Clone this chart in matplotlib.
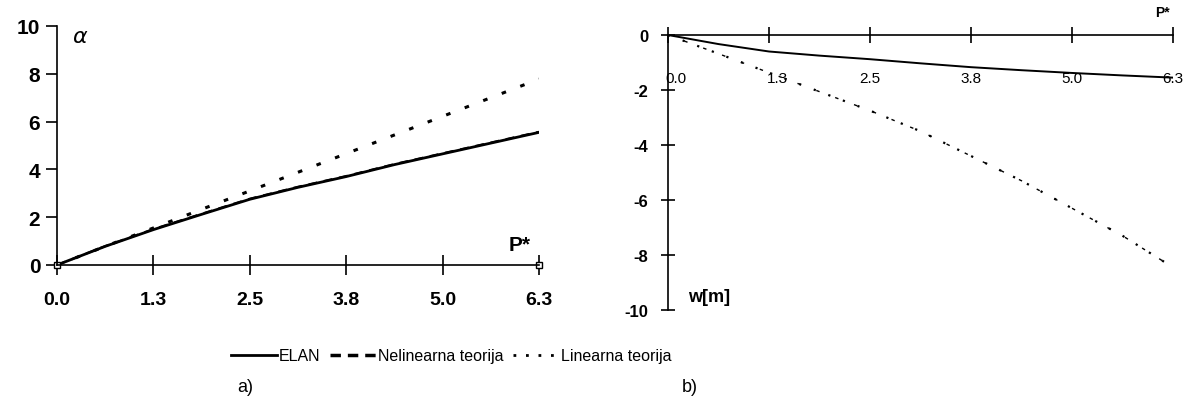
import numpy as np
import matplotlib.pyplot as plt
from matplotlib.lines import Line2D
import matplotlib.transforms as mtransforms

plt.rcParams['font.family'] = ['Liberation Sans', 'DejaVu Sans']

## data
p = [0.0, 0.63, 1.26, 1.89, 2.52, 3.15, 3.78, 4.41, 5.04, 5.67, 6.3]
tick_pos = [0.0, 1.26, 2.52, 3.78, 5.04, 6.3]
tick_lab = ['0.0', '1.3', '2.5', '3.8', '5.0', '6.3']

# a) rotation alpha
alpha_elan = [0.0, 0.78, 1.48, 2.12, 2.75, 3.25, 3.70, 4.20, 4.65, 5.10, 5.55]
alpha_nelin = [0.0, 0.79, 1.50, 2.14, 2.77, 3.27, 3.72, 4.22, 4.67, 5.12, 5.57]
alpha_lin = [0.0, 0.78, 1.55, 2.33, 3.10, 3.88, 4.66, 5.44, 6.22, 7.00, 7.78]

# b) deflection w[m]
w_elan = [0.0, -0.33, -0.60, -0.75, -0.88, -1.03, -1.17, -1.28, -1.38, -1.47, -1.55]
w_nelin = [0.0, -0.68, -1.37, -2.06, -2.75, -3.50, -4.40, -5.30, -6.30, -7.30, -8.45]
w_lin = [0.0, -0.68, -1.37, -2.06, -2.75, -3.50, -4.40, -5.30, -6.30, -7.30, -8.45]

W, H = 1185, 406
fig = plt.figure(figsize=(W / 100, H / 100), dpi=100)

## left plot
ax1 = fig.add_axes([57 / W, 1 - 266 / H, (539 - 57) / W, (266 - 27) / H])
ax1.plot(p, alpha_nelin, color='black', lw=1.6, ls=(0, (4, 3)))
ax1.plot(p, alpha_lin, color='black', lw=2.2, ls=(0, (1.5, 5)))
ax1.plot(p, alpha_elan, color='black', lw=2.0)
ax1.plot([0, 6.3], [0, 0], ls='none', marker='s', ms=4, mfc='white', mec='black', clip_on=False)
ax1.set_xlim(0, 6.3)
ax1.set_ylim(0, 10)
for s in ['top', 'right']:
    ax1.spines[s].set_visible(False)
for s in ['left', 'bottom']:
    ax1.spines[s].set_linewidth(1.2)
ax1.set_xticks(tick_pos)
ax1.set_xticklabels(tick_lab, fontsize=14, fontweight='bold')
ax1.set_yticks([0, 2, 4, 6, 8, 10])
ax1.set_yticklabels(['0', '2', '4', '6', '8', '10'], fontsize=15, fontweight='bold')
ax1.tick_params(axis='x', direction='inout', length=14, width=1.2, pad=12)
ax1.tick_params(axis='y', direction='out', length=8, width=1.2, pad=4)
ax1.text(0.3, 9.55, r'$\alpha$', fontsize=16, ha='center', va='center')
ax1.text(6.05, 0.85, 'P*', fontsize=15, fontweight='bold', ha='center', va='center')

## right plot
ax2 = fig.add_axes([668 / W, 1 - 311 / H, (1173 - 668) / W, (311 - 36) / H])
ax2.plot(p, w_nelin, color='black', lw=1.0, ls=(2, (2.5, 12)))
ax2.plot(p, w_lin, color='black', lw=1.6, ls=(0, (1, 6)))
ax2.plot(p, w_elan, color='black', lw=1.4)
ax2.set_xlim(0, 6.3)
ax2.set_ylim(-10, 0)
ax2.spines['bottom'].set_position(('data', 0))
for s in ['top', 'right']:
    ax2.spines[s].set_visible(False)
for s in ['left', 'bottom']:
    ax2.spines[s].set_linewidth(1.2)
ax2.set_xticks(tick_pos)
ax2.set_xticklabels(tick_lab, fontsize=11)
ax2.set_yticks([0, -2, -4, -6, -8, -10])
ax2.set_yticklabels(['0', '-2', '-4', '-6', '-8', '-10'], fontsize=12, fontweight='bold')
ax2.tick_params(axis='x', direction='inout', length=12, width=1.2, pad=20)
ax2.tick_params(axis='y', direction='inout', length=10, width=1.2, pad=9)
shift = mtransforms.ScaledTranslation(0.08, 0, fig.dpi_scale_trans)
for lab in ax2.get_xticklabels()[:2]:
    lab.set_transform(lab.get_transform() + shift)
ax2.text(6.17, 0.85, 'P*', fontsize=10, fontweight='bold', ha='center', va='center', clip_on=False)
ax2.text(0.25, -9.5, 'w[m]', fontsize=13, fontweight='bold', ha='left', va='center')

## legend and captions
handles = [Line2D([], [], color='black', lw=2.0),
           Line2D([], [], color='black', lw=2.5, ls=(0, (3, 2))),
           Line2D([], [], color='black', lw=2.0, ls=(0, (1, 3.5)))]
labels = ['ELAN', 'Nelinearna teorija', 'Linearna teorija']
fig.legend(handles, labels, loc='center', bbox_to_anchor=(451 / W, 1 - 357 / H),
           ncol=3, frameon=False, handlelength=2.9, handletextpad=0.1,
           columnspacing=0.6, borderaxespad=0,
           prop={'size': 11.5})
fig.text(245 / W, 1 - 388 / H, 'a)', fontsize=13, ha='center', va='center')
fig.text(690 / W, 1 - 388 / H, 'b)', fontsize=13, ha='center', va='center')

fig.savefig('out.png', dpi=100)
